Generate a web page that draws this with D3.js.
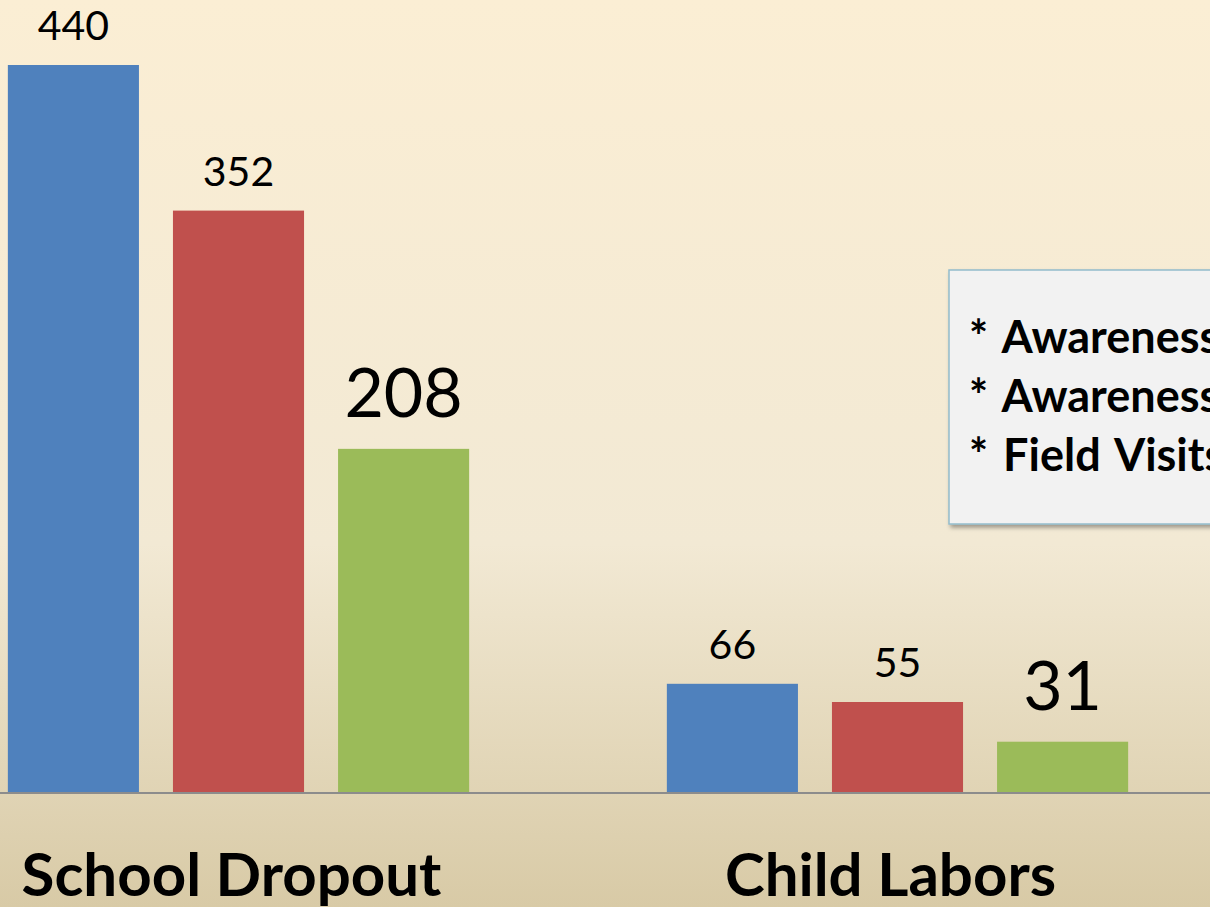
<!DOCTYPE html>
<html>
<head>
<meta charset="utf-8">
<script src="https://cdn.jsdelivr.net/npm/d3@7"></script>
<style>
  html, body { margin: 0; padding: 0; overflow: hidden; }
  svg { display: block; font-family: Lato, "Open Sans", sans-serif; }
</style>
</head>
<body>
<div id="graph_draw"></div>
<script>
// data
var categories = ["School Dropout", "Child Labors"];
var seriesNames = ["Series 1", "Series 2", "Series 3"];
var seriesColors = ["#4f81bd", "#c0504d", "#9bbb59"];
var dropoutValues = [440, 352, 208];
var laborValues = [66, 55, 31];
var noteLines = ["* Awareness", "* Awareness", "* Field Visits"];

var W = 1210, H = 907;
var baseline = 793;

var rows = categories.map(function(c, i) {
    return { cat: c, values: [dropoutValues, laborValues][i] };
});

var svg = d3.select("#graph_draw").append("svg")
    .attr("width", W)
    .attr("height", H);

// background gradient
var defs = svg.append("defs");
var grad = defs.append("linearGradient")
    .attr("id", "bg").attr("x1", 0).attr("y1", 0).attr("x2", 0).attr("y2", 1);
grad.append("stop").attr("offset", "0%").attr("stop-color", "#fbeed4");
grad.append("stop").attr("offset", "60%").attr("stop-color", "#f2e9d4");
grad.append("stop").attr("offset", "100%").attr("stop-color", "#d8caa6");

var shadow = defs.append("filter").attr("id", "shadow")
    .attr("x", "-10%").attr("y", "-10%").attr("width", "130%").attr("height", "130%");
shadow.append("feDropShadow")
    .attr("dx", 2).attr("dy", 3).attr("stdDeviation", 2)
    .attr("flood-color", "#000").attr("flood-opacity", 0.35);

svg.append("rect").attr("width", W).attr("height", H).attr("fill", "url(#bg)");

// scales
var x0 = d3.scaleBand()
    .domain(categories)
    .range([-91, 1227])
    .paddingInner(0.3)
    .paddingOuter(0.15);

var x1 = d3.scaleBand()
    .domain(seriesNames)
    .range([0, x0.bandwidth()])
    .paddingInner(0.206);

var y = d3.scaleLinear()
    .domain([0, 440])
    .range([baseline, 65]);

// bars
var groups = svg.selectAll("g.cat")
    .data(rows)
    .enter().append("g")
    .attr("class", "cat")
    .attr("transform", function(d) { return "translate(" + x0(d.cat) + ",0)"; });

groups.selectAll("rect")
    .data(function(d) { return d.values.map(function(v, i) { return { s: seriesNames[i], i: i, v: v }; }); })
    .enter().append("rect")
    .attr("x", function(d) { return x1(d.s); })
    .attr("y", function(d) { return y(d.v); })
    .attr("width", x1.bandwidth())
    .attr("height", function(d) { return baseline - y(d.v); })
    .attr("fill", function(d) { return seriesColors[d.i]; });

// value labels, last series drawn bigger
groups.selectAll("text.val")
    .data(function(d) { return d.values.map(function(v, i) { return { s: seriesNames[i], i: i, v: v }; }); })
    .enter().append("text")
    .attr("class", "val")
    .attr("x", function(d) { return x1(d.s) + x1.bandwidth() / 2; })
    .attr("y", function(d) { return y(d.v) - (d.i == 2 ? 32 : 25); })
    .attr("text-anchor", "middle")
    .attr("font-size", function(d) { return d.i == 2 ? 68 : 41; })
    .attr("fill", "#000")
    .text(function(d) { return d.v; });

// x axis
var xAxis = svg.append("g")
    .attr("transform", "translate(0," + baseline + ")")
    .call(d3.axisBottom(x0).tickSize(0).tickPadding(0));
xAxis.select(".domain").attr("d", "M0,0H" + W).attr("stroke", "#8c8c8c").attr("stroke-width", 2);
xAxis.selectAll("text")
    .attr("y", 103)
    .attr("dy", 0)
    .attr("dx", -7)
    .attr("font-size", 60)
    .attr("font-weight", "bold")
    .attr("font-family", "Lato, 'Open Sans', sans-serif")
    .attr("fill", "#000");

// note box
var note = svg.append("g");
note.append("rect")
    .attr("x", 949).attr("y", 270)
    .attr("width", 300).attr("height", 254)
    .attr("fill", "#f2f2f2")
    .attr("stroke", "#93bccc")
    .attr("stroke-width", 1.5)
    .attr("filter", "url(#shadow)");
note.selectAll("text")
    .data(noteLines)
    .enter().append("text")
    .attr("x", 969)
    .attr("y", function(d, i) { return 353 + i * 59; })
    .attr("font-size", 45)
    .attr("font-weight", "bold")
    .attr("word-spacing", 4)
    .attr("fill", "#000")
    .text(function(d) { return d; });
</script>
</body>
</html>
